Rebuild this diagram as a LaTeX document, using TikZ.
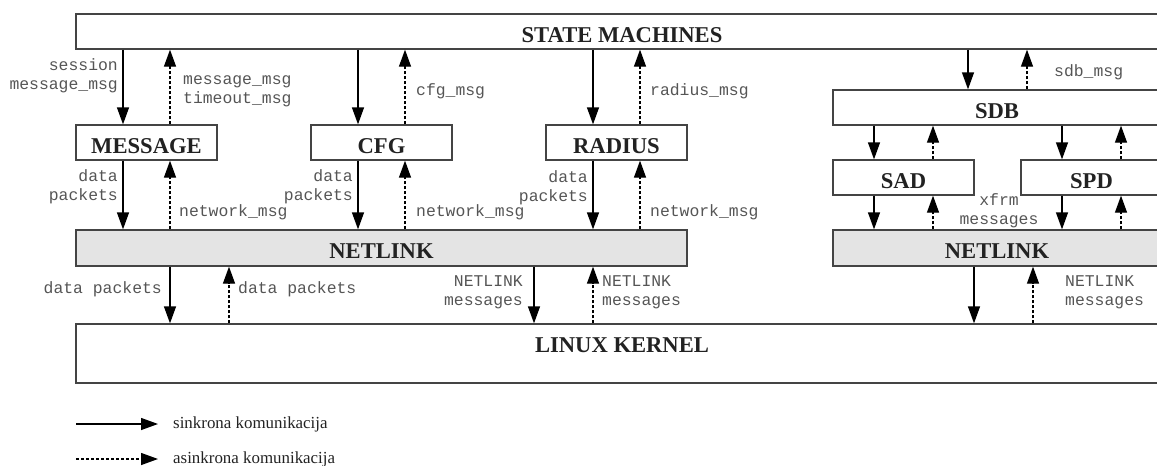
\documentclass[tikz,border=0pt]{standalone}
\usepackage{fontspec}
\setmainfont{Liberation Serif}
\setmonofont{Liberation Mono}
\usetikzlibrary{arrows.meta}
\definecolor{boxline}{HTML}{444444}
\definecolor{titlecol}{HTML}{222222}
\definecolor{monocol}{HTML}{555555}
\definecolor{nlfill}{HTML}{E4E4E4}
\newcommand\dgTitle{\fontsize{22.6}{26}\selectfont\bfseries}
\newcommand\dgMono{\fontsize{16.4}{19}\selectfont\ttfamily}
\newcommand\dgLeg{\fontsize{16.9}{19}\selectfont}
\begin{document}
\begin{tikzpicture}[x=1pt,y=-1pt,
  box/.style={draw=boxline, line width=1.3pt, fill=white, inner sep=0pt, font=\dgTitle, text=titlecol, text height=21pt, text depth=0pt},
  nlbox/.style={box, fill=nlfill},
  lbl/.style={font=\dgMono, text=monocol, inner sep=0pt},
  leg/.style={font=\dgLeg, text=titlecol, inner sep=0pt, anchor=west},
  sync/.style={line width=1.3pt, draw=black, -{Triangle[length=17pt,width=12pt]}},
  async/.style={sync, dash pattern=on 3pt off 2pt}]
\useasboundingbox (0,0) rectangle (1157,466);
\clip (0,0) rectangle (1157,466);
% boxes
\node (sm)  [box, minimum width=1092pt, minimum height=35pt] at (622,31.5) {STATE MACHINES};
\node (msg) [box, minimum width=141pt, minimum height=35pt] at (146.5,142.5) {MESSAGE};
\node (cfg) [box, minimum width=141pt, minimum height=35pt] at (381.5,142.5) {CFG};
\node (rad) [box, minimum width=141pt, minimum height=35pt] at (616.5,142.5) {RADIUS};
\node (nl1) [nlbox, minimum width=611pt, minimum height=36pt] at (381.5,248) {NETLINK};
\node (sdb) [box, minimum width=328pt, minimum height=35pt] at (997,107.5) {SDB};
\node (sad) [box, minimum width=141pt, minimum height=35pt] at (903.5,177.5) {SAD};
\node (spd) [box, minimum width=141pt, minimum height=35pt] at (1091.5,177.5) {SPD};
\node (nl2) [nlbox, minimum width=328pt, minimum height=36pt] at (997,248) {NETLINK};
\node (lk)  [box, minimum width=1092pt, minimum height=59pt] at (622,353.5) {};
\node (lkt) [inner sep=0pt, font=\dgTitle, text=titlecol] at (622,345) {LINUX KERNEL};
% columns
\coordinate (a1) at (123,0);  \coordinate (a2) at (170,0);
\coordinate (a3) at (358,0);  \coordinate (a4) at (405,0);
\coordinate (a5) at (593,0);  \coordinate (a6) at (640,0);
\coordinate (b1) at (968,0);  \coordinate (b2) at (1027,0);
\coordinate (b3) at (874,0);  \coordinate (b4) at (933,0);
\coordinate (b5) at (1062,0); \coordinate (b6) at (1121,0);
\coordinate (k1) at (170,0);  \coordinate (k2) at (229,0);
\coordinate (k3) at (534,0);  \coordinate (k4) at (593,0);
\coordinate (k5) at (974,0);  \coordinate (k6) at (1033,0);
% MESSAGE
\draw[sync]  (sm.south -| a1) -- (msg.north -| a1);
\draw[async] (msg.north -| a2) -- (sm.south -| a2);
\draw[sync]  (msg.south -| a1) -- (nl1.north -| a1);
\draw[async] (nl1.north -| a2) -- (msg.south -| a2);
% CFG
\draw[sync]  (sm.south -| a3) -- (cfg.north -| a3);
\draw[async] (cfg.north -| a4) -- (sm.south -| a4);
\draw[sync]  (cfg.south -| a3) -- (nl1.north -| a3);
\draw[async] (nl1.north -| a4) -- (cfg.south -| a4);
% RADIUS
\draw[sync]  (sm.south -| a5) -- (rad.north -| a5);
\draw[async] (rad.north -| a6) -- (sm.south -| a6);
\draw[sync]  (rad.south -| a5) -- (nl1.north -| a5);
\draw[async] (nl1.north -| a6) -- (rad.south -| a6);
% SDB
\draw[sync]  (sm.south -| b1) -- (sdb.north -| b1);
\draw[async] (sdb.north -| b2) -- (sm.south -| b2);
\draw[sync]  (sdb.south -| b3) -- (sad.north -| b3);
\draw[async] (sad.north -| b4) -- (sdb.south -| b4);
\draw[sync]  (sdb.south -| b5) -- (spd.north -| b5);
\draw[async] (spd.north -| b6) -- (sdb.south -| b6);
\draw[sync]  (sad.south -| b3) -- (nl2.north -| b3);
\draw[async] (nl2.north -| b4) -- (sad.south -| b4);
\draw[sync]  (spd.south -| b5) -- (nl2.north -| b5);
\draw[async] (nl2.north -| b6) -- (spd.south -| b6);
% kernel
\draw[sync]  (nl1.south -| k1) -- (lk.north -| k1);
\draw[async] (lk.north -| k2) -- (nl1.south -| k2);
\draw[sync]  (nl1.south -| k3) -- (lk.north -| k3);
\draw[async] (lk.north -| k4) -- (nl1.south -| k4);
\draw[sync]  (nl2.south -| k5) -- (lk.north -| k5);
\draw[async] (lk.north -| k6) -- (nl2.south -| k6);
% labels
\node (l1)  [lbl, anchor=east, align=right] at (118,75.5) {session\\message\_msg};
\node (l2)  [lbl, anchor=west, align=left] at (183,91) {message\_msg\\timeout\_msg};
\node (l3)  [lbl, anchor=east, align=right] at (118,186.5) {data\\packets};
\node (l4)  [lbl, anchor=west] at (179,212) {network\_msg};
\node (l5)  [lbl, anchor=east, align=right] at (353,186.5) {data\\packets};
\node (l6)  [lbl, anchor=west] at (416,91) {cfg\_msg};
\node (l7)  [lbl, anchor=west] at (416,212) {network\_msg};
\node (l8)  [lbl, anchor=east, align=right] at (588,187.5) {data\\packets};
\node (l9)  [lbl, anchor=west] at (650,91) {radius\_msg};
\node (l10) [lbl, anchor=west] at (650,212) {network\_msg};
\node (l11) [lbl, anchor=west] at (1054,72) {sdb\_msg};
\node (l12) [lbl, align=center] at (999,211) {xfrm\\messages};
\node (l13) [lbl, anchor=east] at (162,289) {data packets};
\node (l14) [lbl, anchor=west] at (238,289) {data packets};
\node (l15) [lbl, anchor=east, align=right] at (523,292) {NETLINK\\messages};
\node (l16) [lbl, anchor=west, align=left] at (602,292) {NETLINK\\messages};
\node (l17) [lbl, anchor=west, align=left] at (1065,292) {NETLINK\\messages};
% legend
\coordinate (s1) at (76,424);  \coordinate (s2) at (158,424);
\coordinate (d1) at (76,459);  \coordinate (d2) at (158,459);
\draw[sync] (s1) -- (s2);
\draw[async] (d1) -- (d2);
\node (t1) [leg] at (173,424) {sinkrona komunikacija};
\node (t2) [leg] at (173,459) {asinkrona komunikacija};
\end{tikzpicture}
\end{document}
